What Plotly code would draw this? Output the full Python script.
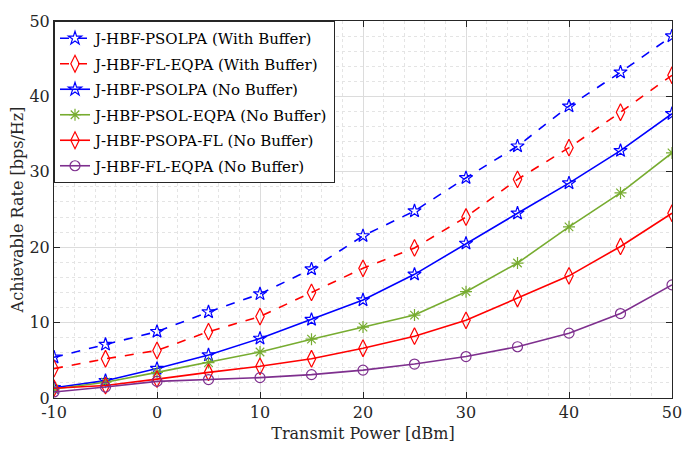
import plotly.graph_objects as go

power_dbm = [-10, -5, 0, 5, 10, 15, 20, 25, 30, 35, 40, 45, 50]
x_tick_vals = [-10, 0, 10, 20, 30, 40, 50]
x_tick_text = ["-10", "0", "10", "20", "30", "40", "50"]

psolpa_buf = [5.4, 7.1, 8.8, 11.4, 13.8, 17.1, 21.5, 24.8, 29.2, 33.4, 38.7, 43.2, 48.0]
fleqpa_buf = [3.9, 5.2, 6.3, 8.8, 10.8, 14.0, 17.2, 19.9, 24.0, 29.0, 33.2, 37.9, 42.8]
psolpa_nobuf = [1.35, 2.3, 3.9, 5.7, 7.9, 10.4, 13.0, 16.4, 20.5, 24.5, 28.5, 32.8, 37.7]
psoleqpa_nobuf = [1.2, 2.1, 3.4, 4.7, 6.1, 7.8, 9.4, 11.0, 14.1, 17.9, 22.7, 27.2, 32.5]
psopafl_nobuf = [1.3, 1.65, 2.5, 3.4, 4.2, 5.2, 6.6, 8.2, 10.3, 13.2, 16.2, 20.1, 24.5]
fleqpa_nobuf = [0.8, 1.45, 2.2, 2.45, 2.7, 3.1, 3.7, 4.5, 5.5, 6.8, 8.6, 11.2, 15.0]

series_names = [
    "J-HBF-PSOLPA (With Buffer)",
    "J-HBF-FL-EQPA (With Buffer)",
    "J-HBF-PSOLPA (No Buffer)",
    "J-HBF-PSOL-EQPA (No Buffer)",
    "J-HBF-PSOPA-FL (No Buffer)",
    "J-HBF-FL-EQPA (No Buffer)",
]
series_values = [psolpa_buf, fleqpa_buf, psolpa_nobuf, psoleqpa_nobuf, psopafl_nobuf, fleqpa_nobuf]
colors = ["#0000FF", "#FF0000", "#0000FF", "#77AC30", "#FF0000", "#7E2F8E"]
symbols = ["star-open", "diamond-tall-open", "star-open", "asterisk-open", "diamond-tall-open", "circle-open"]
dashes = ["dash", "dash", "solid", "solid", "solid", "solid"]
sizes = [10, 12, 10, 10, 12, 10]

FONT = "DejaVu Serif"

fig = go.Figure()
for i, (name, vals, c, s, d, sz) in enumerate(zip(series_names, series_values, colors, symbols, dashes, sizes)):
    fig.add_trace(go.Scatter(
        x=power_dbm, y=vals, name=name, mode="lines+markers",
        legendgroup=f"g{i}",
        line=dict(color=c, width=1.6, dash=d),
        marker=dict(symbol=s, size=sz, color=c, line=dict(color=c, width=1.2)),
    ))

axis_common = dict(
    showline=True, linecolor="#262626", linewidth=1, mirror="allticks",
    ticks="inside", ticklen=6, tickcolor="#262626",
    showgrid=True, gridcolor="#dcdcdc", gridwidth=1,
    zeroline=False, automargin=False,
    tickfont=dict(family=FONT, size=16, color="#262626"),
    minor=dict(showgrid=True, gridcolor="#e4e4e4", griddash="dot", dtick=2),
)

fig.update_xaxes(
    range=[-10, 50], tickvals=x_tick_vals, ticktext=x_tick_text,
    title=dict(text="Transmit Power [dBm]", font=dict(family=FONT, size=16, color="#262626"), standoff=6),
    **axis_common,
)
fig.update_yaxes(
    range=[0, 50], dtick=10,
    title=dict(text="Achievable Rate [bps/Hz]", font=dict(family=FONT, size=16, color="#262626"), standoff=4),
    **axis_common,
)

fig.update_layout(
    width=686, height=447,
    margin=dict(l=46, r=22, t=13, b=57, autoexpand=False),
    plot_bgcolor="white", paper_bgcolor="white",
    legend=dict(
        x=0, y=1, xanchor="left", yanchor="top",
        bgcolor="white", bordercolor="#262626", borderwidth=1,
        font=dict(family=FONT, size=15, color="#000000"),
        itemwidth=30, tracegroupgap=3,
    ),
)

fig.write_html("out.html")
